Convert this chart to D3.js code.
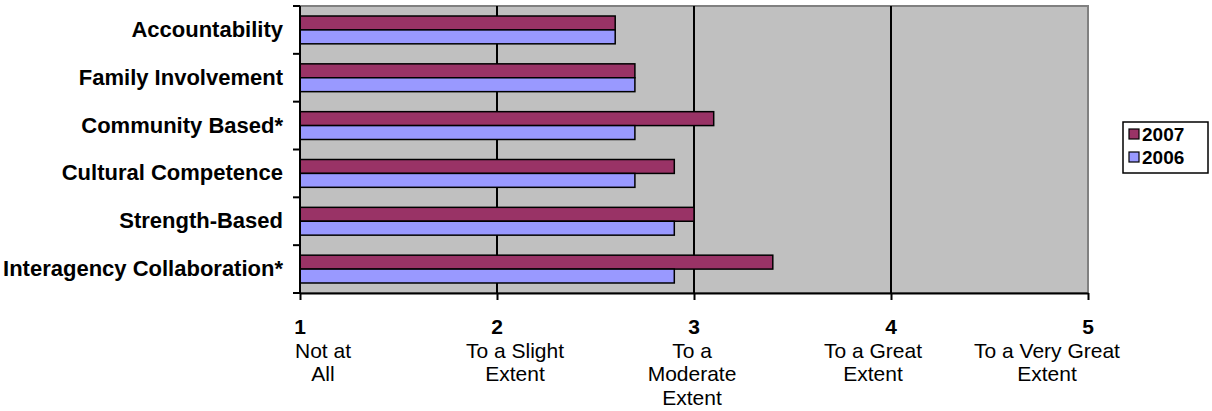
<!DOCTYPE html>
<html>
<head>
<meta charset="utf-8">
<script src="https://cdn.jsdelivr.net/npm/d3@7"></script>
<style>
  html, body { margin: 0; padding: 0; background: #fff; }
  svg { display: block; font-family: "Liberation Sans", Arial, sans-serif; }
</style>
</head>
<body>
<svg id="chart" width="1212" height="411"></svg>
<script>
// Categories, top to bottom
const categories = [
  "Accountability",
  "Family Involvement",
  "Community Based*",
  "Cultural Competence",
  "Strength-Based",
  "Interagency Collaboration*"
];
const seriesNames = ["2007", "2006"];
const values2007 = [2.6, 2.7, 3.1, 2.9, 3.0, 3.4];
const values2006 = [2.6, 2.7, 2.7, 2.7, 2.9, 2.9];
const seriesColors = ["#993366", "#9999FF"];

// Rating scale ticks
const tickValues = [1, 2, 3, 4, 5];
const tickNumbers = ["1", "2", "3", "4", "5"];
const tickTexts = [
  ["Not at", "All"],
  ["To a Slight", "Extent"],
  ["To a", "Moderate", "Extent"],
  ["To a Great", "Extent"],
  ["To a Very Great", "Extent"]
];
// horizontal shift of each description block relative to its tick
const tickTextShift = [23, 18, -2, -18, -41];

const svg = d3.select("#chart");
const plot = { left: 300, right: 1088, top: 6, bottom: 293 };

const x = d3.scaleLinear().domain([1, 5]).range([plot.left, plot.right]);
const y = d3.scaleBand().domain(categories).range([plot.top, plot.bottom]);
const ySub = d3.scaleBand().domain(seriesNames).range([0, y.bandwidth()]).paddingOuter(0.72);

const seriesValues = { "2007": values2007, "2006": values2006 };
const rows = categories.map((c, i) => ({ cat: c, vals: seriesNames.map(s => ({ s, v: seriesValues[s][i] })) }));

// plot area
svg.append("rect")
  .attr("x", plot.left).attr("y", plot.top)
  .attr("width", plot.right - plot.left).attr("height", plot.bottom - plot.top)
  .attr("fill", "#C0C0C0").attr("stroke", "#808080").attr("stroke-width", 2);

// vertical gridlines
svg.append("g").selectAll("line")
  .data(tickValues.slice(1, -1))
  .join("line")
  .attr("x1", d => x(d)).attr("x2", d => x(d))
  .attr("y1", plot.top).attr("y2", plot.bottom)
  .attr("stroke", "#000").attr("stroke-width", 2);

// bars
const groups = svg.append("g").selectAll("g")
  .data(rows).join("g")
  .attr("transform", d => `translate(0,${y(d.cat)})`);
groups.selectAll("rect")
  .data(d => d.vals).join("rect")
  .attr("x", x(1))
  .attr("y", d => ySub(d.s))
  .attr("width", d => x(d.v) - x(1))
  .attr("height", ySub.bandwidth())
  .attr("fill", d => seriesColors[seriesNames.indexOf(d.s)])
  .attr("stroke", "#000").attr("stroke-width", 1.5);

// category axis (left)
const yAxis = d3.axisLeft(y).tickSize(0).tickPadding(17);
const gy = svg.append("g").attr("transform", `translate(${plot.left},0)`).call(yAxis);
gy.select(".domain").remove();
gy.selectAll("text")
  .attr("font-size", 22).attr("font-weight", "bold")
  .attr("font-family", "Liberation Sans, Arial, sans-serif")
  .attr("fill", "#000");
const yBounds = categories.map(c => y(c)).concat([plot.bottom]);
svg.append("g").selectAll("line").data(yBounds).join("line")
  .attr("x1", plot.left - 7).attr("x2", plot.left)
  .attr("y1", d => d).attr("y2", d => d)
  .attr("stroke", "#000").attr("stroke-width", 2);
svg.append("line")
  .attr("x1", plot.left).attr("x2", plot.left)
  .attr("y1", plot.top).attr("y2", plot.bottom)
  .attr("stroke", "#000").attr("stroke-width", 2);

// value axis (bottom)
const xAxis = d3.axisBottom(x).tickValues(tickValues).tickSize(7).tickSizeOuter(0).tickFormat(() => "");
const gx = svg.append("g").attr("transform", `translate(0,${plot.bottom})`).call(xAxis);
gx.select(".domain").attr("stroke", "#000").attr("stroke-width", 2);
gx.selectAll(".tick line").attr("stroke", "#000").attr("stroke-width", 2);

const lbl = svg.append("g").attr("font-size", 21).attr("fill", "#000").attr("text-anchor", "middle");
tickValues.forEach((v, i) => {
  lbl.append("text")
    .attr("x", x(v)).attr("y", 334)
    .attr("font-weight", "bold")
    .text(tickNumbers[i]);
  tickTexts[i].forEach((line, j) => {
    lbl.append("text")
      .attr("x", x(v) + tickTextShift[i])
      .attr("y", 357.5 + j * 23.5)
      .text(line);
  });
});

// legend
const legend = svg.append("g");
legend.append("rect")
  .attr("x", 1123).attr("y", 122).attr("width", 85).attr("height", 51)
  .attr("fill", "#fff").attr("stroke", "#000").attr("stroke-width", 1.5);
seriesNames.forEach((s, i) => {
  const ly = 134 + i * 23;
  legend.append("rect")
    .attr("x", 1129).attr("y", ly - 5).attr("width", 10).attr("height", 10)
    .attr("fill", seriesColors[i]).attr("stroke", "#000").attr("stroke-width", 1.2);
  legend.append("text")
    .attr("x", 1142).attr("y", ly + 7)
    .attr("font-size", 19).attr("font-weight", "bold").attr("fill", "#000")
    .text(s);
});
</script>
</body>
</html>
